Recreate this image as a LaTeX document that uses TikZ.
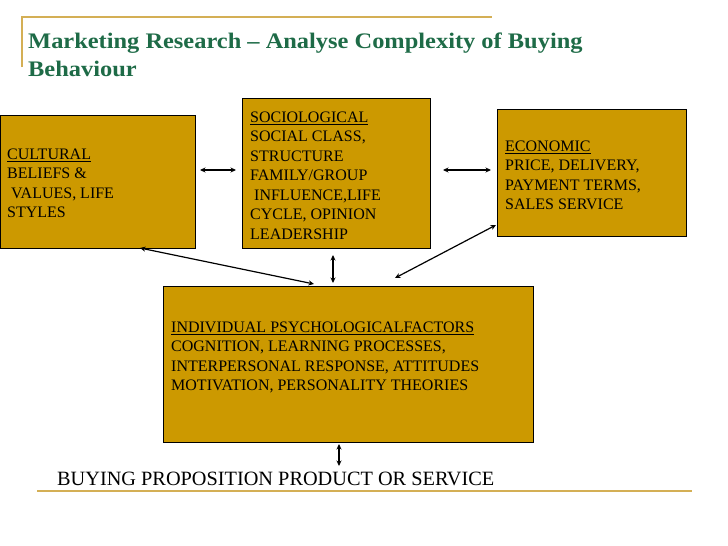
\documentclass[tikz,border=0pt]{standalone}
\usepackage{fontspec}
\setmainfont{Liberation Serif}
\newfontfamily\titlefont[FakeStretch=1.1,Ligatures=TeX]{Liberation Serif}
\usetikzlibrary{arrows.meta}
\definecolor{boxgold}{HTML}{CC9900}
\definecolor{linegold}{HTML}{D4AF55}
\definecolor{titlegreen}{HTML}{1E6B47}
\tikzset{
  box/.style={draw=black, line width=0.9pt, fill=boxgold, inner sep=0pt, outer sep=0pt},
  boxtext/.style={anchor=north west, inner sep=0pt, align=left,
    font=\fontsize{16}{19.5}\selectfont},
  link/.style={line width=1.2pt, {Stealth[length=5.5pt,width=5pt]}-{Stealth[length=5.5pt,width=5pt]}},
  rule/.style={draw=linegold, line width=1.6pt}
}
\begin{document}
\begin{tikzpicture}[x=1pt,y=-1pt]
\useasboundingbox (0,0) rectangle (728,546);
% decorative lines
\draw[rule] (22,67) -- (22,17) -- (492,17);
\draw[rule] (37,491) -- (692,491);
% title
\node[anchor=north west, inner sep=0pt, align=left, text=titlegreen,
  font=\titlefont\fontsize{22.2}{28}\selectfont\bfseries] (title) at (28,32.5)
  {Marketing Research – Analyse Complexity of Buying\\Behaviour};
% boxes
\node[box, minimum width=195pt, minimum height=133pt] (cult) at (97.5,181.5) {};
\node[box, minimum width=188pt, minimum height=150pt] (soc) at (336,173) {};
\node[box, minimum width=189pt, minimum height=127pt] (econ) at (591.5,172.5) {};
\node[box, minimum width=370pt, minimum height=156pt] (ind) at (348,364) {};
% box texts
\node[boxtext] (culttext) at (7,148.4)
  {\underline{CULTURAL}\\BELIEFS \&\\\ VALUES, LIFE\\STYLES};
\node[boxtext] (soctext) at (250,111.4)
  {\underline{SOCIOLOGICAL}\\SOCIAL CLASS,\\STRUCTURE\\FAMILY/GROUP\\\ INFLUENCE,LIFE\\CYCLE, OPINION\\LEADERSHIP};
\node[boxtext] (econtext) at (505,140.4)
  {\underline{ECONOMIC}\\PRICE, DELIVERY,\\PAYMENT TERMS,\\SALES SERVICE};
\node[boxtext] (indtext) at (171,321.4)
  {\underline{INDIVIDUAL PSYCHOLOGICALFACTORS}\\COGNITION, LEARNING PROCESSES,\\INTERPERSONAL RESPONSE, ATTITUDES\\MOTIVATION, PERSONALITY THEORIES};
% bottom text
\node[anchor=north west, inner sep=0pt, font=\fontsize{20.3}{24}\selectfont] (buy) at (57,471.5)
  {BUYING PROPOSITION PRODUCT OR SERVICE};
% connectors
\draw[link] ([xshift=5pt,yshift=11.5pt]cult.east) -- ([xshift=-6pt,yshift=3pt]soc.west);
\draw[link] ([xshift=13pt,yshift=3pt]soc.east) -- ([xshift=-6pt,yshift=2.5pt]econ.west);
\draw[link] ([xshift=42.5pt]cult.south) -- ([xshift=-34pt,yshift=2pt]ind.north);
\draw[link] ([xshift=-3pt,yshift=-7pt]soc.south) -- ([xshift=-15pt,yshift=3pt]ind.north);
\draw[link] ([xshift=-1pt,yshift=11pt]econ.south west) -- ([xshift=47pt,yshift=8pt]ind.north);
\draw[link] ([xshift=-9pt,yshift=-2pt]ind.south) -- ([xshift=-9pt,yshift=-24pt]ind.south);
\end{tikzpicture}
\end{document}
